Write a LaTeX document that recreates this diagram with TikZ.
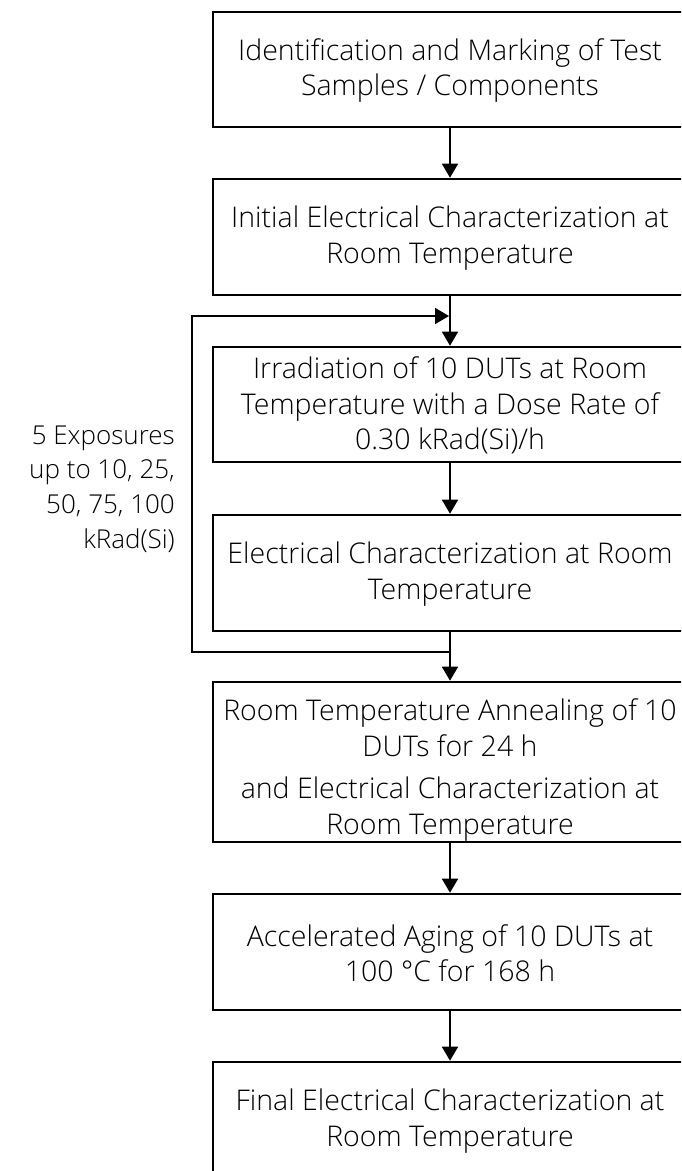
\documentclass[tikz,border=0pt]{standalone}
\usepackage{fontspec}
\setmainfont{Open Sans Light}
\usetikzlibrary{arrows.meta}
\newcommand\tstrut[1]{\rule{0pt}{#1}}
\begin{document}
\begin{tikzpicture}[x=1pt,y=-1pt,
  txt/.style={font=\fontsize{28.5}{35.5}\selectfont},
  lbltxt/.style={font=\fontsize{26}{34.8}\selectfont},
  box/.style={txt, draw, line width=2.6pt, minimum width=474pt, align=center, inner sep=0pt},
  conn/.style={line width=1.7pt, -{Triangle[length=14pt,width=16pt]}},
  loop/.style={line width=1.6pt},
  ]
\useasboundingbox (0,0) rectangle (681,1171);
\clip (0,0) rectangle (681,1171);
\node[box, minimum height=115pt] (b1) at (450,69.5) {\tstrut{24pt}Identification and Marking of Test\\Samples / Components};
\node[box, minimum height=116pt] (b2) at (450,237) {\tstrut{24pt}Initial Electrical Characterization at\\Room Temperature};
\node[box, minimum height=115pt] (b3) at (450,404.5) {\tstrut{24pt}Irradiation of 10 DUTs at Room\\Temperature with a Dose Rate of\\0.30 kRad(Si)/h};
\node[box, minimum height=116pt] (b4) at (450,573) {\tstrut{24pt}Electrical Characterization at Room\\Temperature};
\node[box, minimum height=160pt] (b5) at (450,762) {\tstrut{38pt}Room Temperature Annealing of 10\\DUTs for 24 h\\[7pt]and Electrical Characterization at\\Room Temperature};
\node[box, minimum height=116pt] (b6) at (450,952) {\tstrut{24pt}Accelerated Aging of 10 DUTs at\\100 °C for 168 h};
\node[box, minimum height=116pt] (b7) at (450,1120) {\tstrut{24pt}Final Electrical Characterization at\\Room Temperature};
\node[lbltxt, align=right, anchor=east, inner sep=0pt] (lbl) at (175,489) {5 Exposures\\up to 10, 25,\\50, 75, 100\\kRad(Si)};
\draw[conn] (b1) -- (b2);
\draw[conn] (b2) -- (b3);
\draw[conn] (b3) -- (b4);
\draw[conn] (b4) -- (b5);
\draw[conn] (b5) -- (b6);
\draw[conn] (b6) -- (b7);
\coordinate (lo) at (450,652);
\coordinate (ll) at (192,652);
\coordinate (lu) at (192,316);
\coordinate (li) at (449,316);
\draw[loop, -{Triangle[length=14pt,width=16pt]}] (lo) -- (ll) -- (lu) -- (li);
\end{tikzpicture}
\end{document}
